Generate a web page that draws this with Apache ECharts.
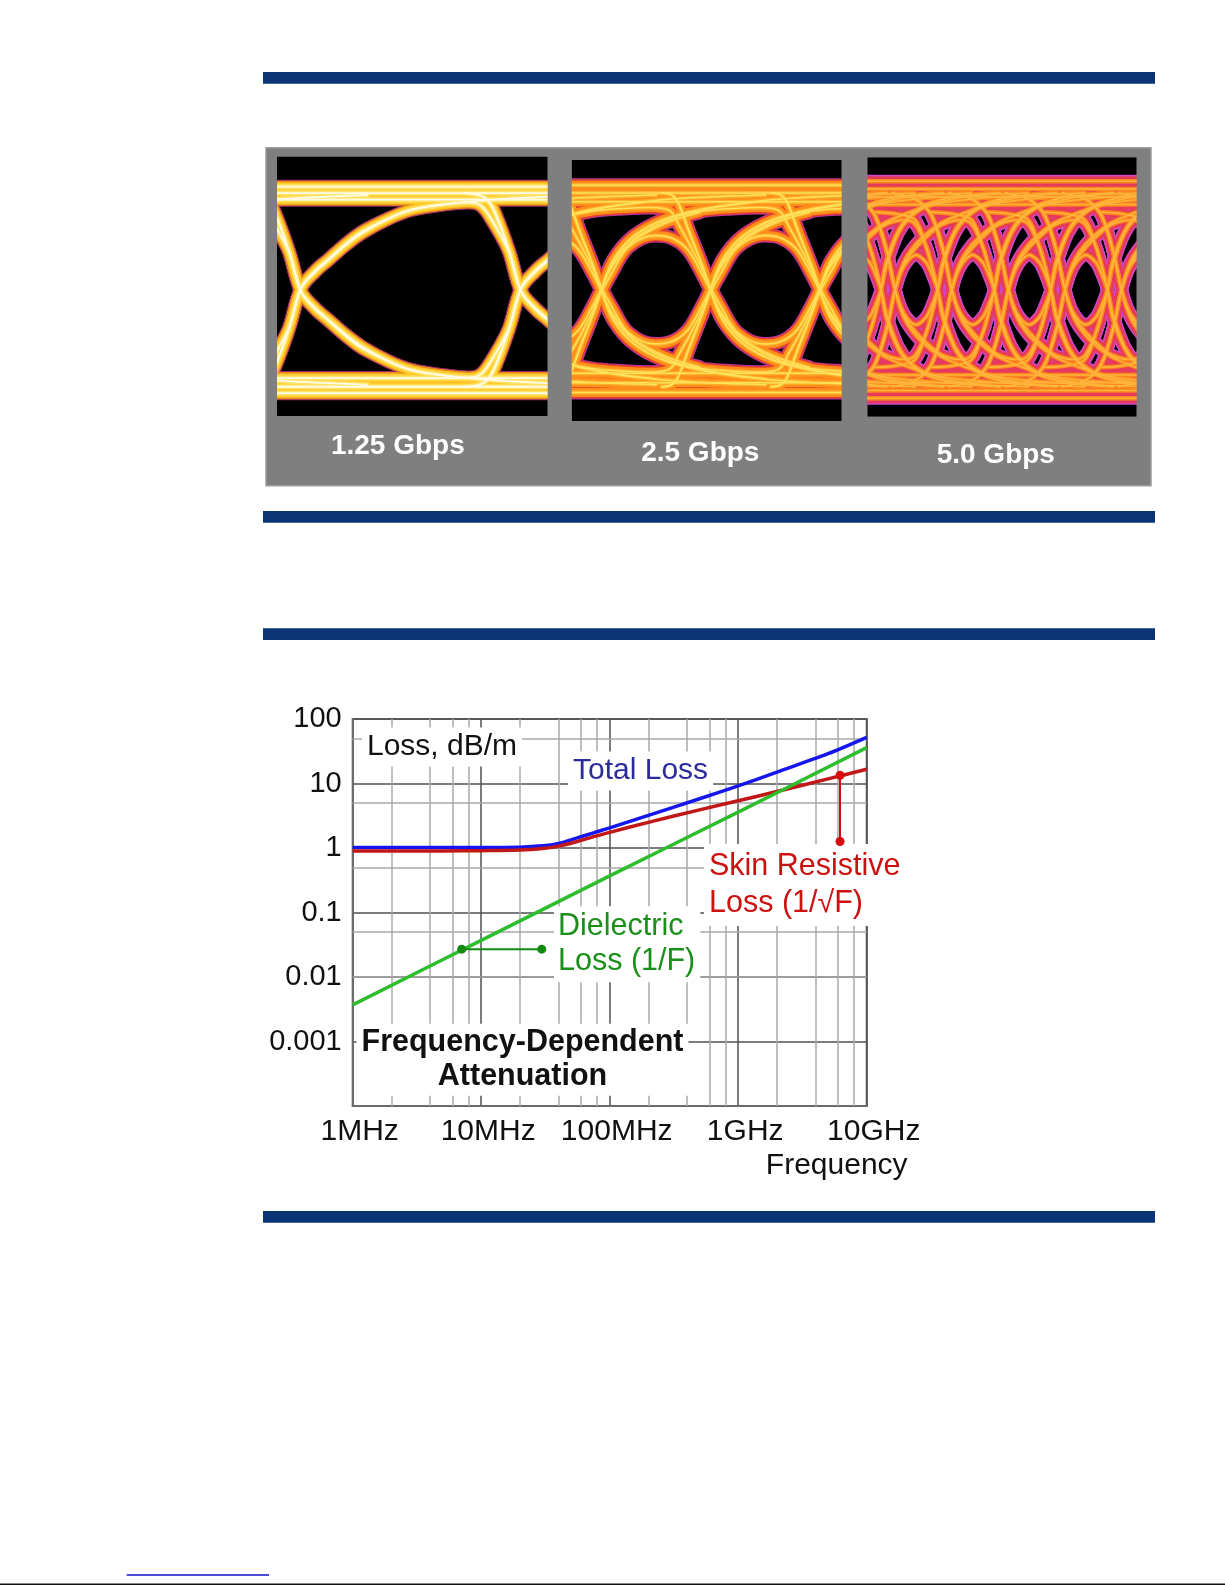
<!DOCTYPE html>
<html>
<head>
<meta charset="utf-8">
<script src="https://cdn.jsdelivr.net/npm/echarts@6/dist/echarts.min.js"></script>
<style>
html,body{margin:0;padding:0;background:#fff;}
#c{width:1225px;height:1585px;}
</style>
</head>
<body>
<div id="c"></div>
<script>
// ---------------- DATA: loss chart ----------------
const freqMHz     = [1, 2, 5, 10, 20, 30, 40, 55, 75, 100, 200, 500, 1000, 2000, 5000, 10000];
const totalLoss   = [1.02, 1.02, 1.02, 1.02, 1.03, 1.08, 1.18, 1.42, 1.72, 2.05, 3.2, 5.8, 9.2, 15, 29, 52];
const skinLoss    = [0.9, 0.9, 0.9, 0.91, 0.93, 0.98, 1.07, 1.25, 1.5, 1.75, 2.5, 3.9, 5.4, 7.5, 11.8, 16.6];
const dielFreqMHz = [1, 10, 100, 1000, 10000];
const dielLoss    = [0.0037, 0.037, 0.37, 3.6, 36];
const xTickLabels = ['1MHz', '10MHz', '100MHz', '1GHz', '10GHz'];          // exponents 0..4
const yTickLabels = ['', '0.001', '0.01', '0.1', '1', '10', '100'];         // exponents -4..2
const minorFreqs  = [2, 4, 6, 8, 20, 40, 60, 80, 200, 400, 600, 800, 2000, 4000, 6000, 8000];
const minorLosses = [0.0005, 0.005, 0.05, 0.5, 5, 50];
const skinMarker  = [[6200, 13.4], [6200, 1.26]];
const dielMarker  = [[7.05, 0.027], [29.6, 0.027]];

// ---------------- DATA: eye diagrams (time in UI, level 0..1) ----------------
const eyeLabels = ['1.25 Gbps', '2.5 Gbps', '5.0 Gbps'];
const eye1Edge  = [[-0.26,1.0],[-0.19,0.99],[-0.15,0.96],[-0.12,0.9],[-0.057,0.706],[0,0.49],[0.064,0.405],[0.125,0.344],[0.2,0.27],[0.276,0.206],[0.4,0.13],[0.503,0.086],[0.65,0.058],[0.806,0.04],[1.0,0.025],[1.3,0.01]];
const eye1Pulse = [[-0.26,0.0],[-0.19,0.01],[-0.15,0.04],[-0.12,0.1],[-0.057,0.294],[0,0.51],[0.064,0.595],[0.125,0.656],[0.2,0.73],[0.276,0.794],[0.4,0.87],[0.503,0.914],[0.65,0.942],[0.76,0.952],[0.81,0.94],[0.85,0.89],[0.943,0.7],[1.0,0.49],[1.064,0.4],[1.125,0.34],[1.2,0.265],[1.276,0.2],[1.4,0.13]];
const eye1Rails = [1.033, 1.0, 0.966, 0.045, 0.0, -0.033];

const eye2Edge   = [[-0.45,1.0],[-0.36,0.99],[-0.3,0.95],[-0.2,0.8],[-0.076,0.62],[0,0.49],[0.107,0.344],[0.29,0.224],[0.566,0.138],[0.9,0.086],[1.3,0.05],[1.8,0.025],[2.5,0.01]];
const eye2Pulse1 = [[-0.45,0.0],[-0.36,0.01],[-0.3,0.05],[-0.2,0.2],[-0.076,0.38],[0,0.49],[0.09,0.585],[0.244,0.72],[0.49,0.78],[0.65,0.765],[0.79,0.706],[0.916,0.585],[1.0,0.49],[1.107,0.36],[1.29,0.24],[1.566,0.15],[1.9,0.09],[2.5,0.04]];
const eye2Pulse2 = [[-0.45,0.0],[-0.36,0.01],[-0.3,0.05],[-0.2,0.2],[-0.076,0.38],[0,0.51],[0.107,0.656],[0.29,0.776],[0.566,0.862],[0.9,0.905],[1.2,0.92],[1.45,0.925],[1.62,0.91],[1.72,0.82],[1.8,0.74],[1.924,0.6],[2.0,0.49],[2.107,0.37],[2.29,0.25],[2.566,0.16],[2.9,0.1]];
const eye2Rails  = [1.04, 1.0, 0.955, 0.07, 0.02, -0.03];

const eye3LongEdge  = [[-0.9,1.0],[-0.6,0.98],[-0.4,0.95],[-0.2,0.88],[0,0.7],[0.15,0.5],[0.3,0.36],[0.5,0.27],[0.75,0.2],[1.0,0.15],[1.5,0.09],[2.0,0.05],[3.0,0.02],[4.5,0.0]];
const eye3EarlyEdge = [[-1.2,0.9],[-0.8,0.89],[-0.5,0.86],[-0.3,0.72],[-0.2,0.62],[-0.1,0.5],[0,0.35],[0.2,0.2],[0.4,0.12],[0.7,0.06],[1.2,0.02],[2.0,0.0]];
const eye3Pulse1    = [[-0.9,0.0],[-0.6,0.02],[-0.4,0.05],[-0.2,0.12],[0,0.3],[0.15,0.5],[0.3,0.62],[0.52,0.68],[0.7,0.64],[0.8,0.58],[0.9,0.5],[1.0,0.37],[1.2,0.21],[1.4,0.13],[1.7,0.07],[2.2,0.03],[3.0,0.0]];
const eye3Pulse2    = [[-0.9,0.0],[-0.6,0.02],[-0.4,0.05],[-0.2,0.12],[0,0.3],[0.15,0.5],[0.3,0.63],[0.52,0.72],[0.8,0.8],[1.0,0.84],[1.3,0.86],[1.5,0.84],[1.7,0.72],[1.8,0.62],[1.9,0.5],[2.0,0.35],[2.2,0.2],[2.4,0.12],[2.7,0.06],[3.2,0.02],[4.0,0.0]];
const eye3Rails     = [1.06, 1.02, 0.98, 0.94, 0.06, 0.02, -0.02, -0.06];

// ---------------- layout / style config ----------------
const eyes = [
  {left:277,   top:155.7, width:270.7, height:260.3, tmin:-0.11,  tmax:1.12,  vmin:-0.151, vmax:1.193,
   shifts:[-1,0,1], shapes:[eye1Edge, eye1Pulse], rails:eye1Rails,
   layers:[{w:14,c:'#9a2a6a'},{w:12,c:'#e88a1c'},{w:9,c:'#ffc928'},{w:5,c:'#ffe36a'},{w:1.8,c:'#fffbe6'}],
   label:{x:397.8, y:446}},
  {left:571.7, top:160,   width:270,   height:261,   tmin:-0.275, tmax:2.198, vmin:-0.177, vmax:1.170,
   shifts:[-2,-1,0,1,2], shapes:[eye2Edge, eye2Pulse1, eye2Pulse2], rails:eye2Rails,
   layers:[{w:14,c:'#b532a8'},{w:12,c:'#e4402a'},{w:9,c:'#ff8e1a'},{w:4,c:'#ffb02a'},{w:1.5,c:'#ffe15a'}],
   label:{x:700.3, y:453.3}},
  {left:867.3, top:157.3, width:269.4, height:259.4, tmin:-0.343, tmax:4.417, vmin:-0.155, vmax:1.184,
   shifts:[-4,-3,-2,-1,0,1,2,3,4,5], shapes:[eye3LongEdge, eye3EarlyEdge, eye3Pulse1, eye3Pulse2], rails:eye3Rails,
   layers:[{w:13,c:'#cf48c8'},{w:10,c:'#e63a5c'},{w:4.5,c:'#ff861e'},{w:1.6,c:'#ffb43a'}],
   label:{x:995.8, y:455}}
];
const panelRect = [266, 147.7, 885, 338];
const blueBars = [[263,72,892,11.7],[263,511,892,11.7],[263,628.3,892,11.7],[263,1211,892,11.7]];
const FONT = '"Liberation Sans", Arial, sans-serif';

const grids = [], xAxes = [], yAxes = [], series = [];

function eyeLine(xi, yi, data, L, li) {
  return {type:'line', xAxisIndex:xi, yAxisIndex:yi, data:data, smooth:0.35, showSymbol:false,
    silent:true, animation:false, z:1 + li, clip:true, emphasis:{disabled:true},
    lineStyle:{width:L.w, color:L.c, cap:'round', join:'round'}};
}

eyes.forEach((e, gi) => {
  grids.push({left:e.left, top:e.top, width:e.width, height:e.height, show:true,
    backgroundColor:'#000', borderWidth:0, outerBoundsMode:'none'});
  const xIdx = {};
  e.shifts.forEach(k => {
    xIdx[k] = xAxes.length;
    xAxes.push({type:'value', gridIndex:gi, min:e.tmin - k, max:e.tmax - k, show:false});
  });
  const yN = yAxes.length;
  yAxes.push({type:'value', gridIndex:gi, min:e.vmin, max:e.vmax, show:false});
  const yI = yAxes.length;
  yAxes.push({type:'value', gridIndex:gi, min:1 - e.vmax, max:1 - e.vmin, inverse:true, show:false});
  e.layers.forEach((L, li) => {
    e.rails.forEach(lv => series.push(eyeLine(xIdx[0], yN, [[e.tmin - 1, lv], [e.tmax + 1, lv]], L, li)));
    e.shapes.forEach(sh => e.shifts.forEach(k => [yN, yI].forEach(yy => series.push(eyeLine(xIdx[k], yy, sh, L, li)))));
  });
});

// ---------------- loss chart ----------------
const LG = grids.length;
grids.push({left:352.7, top:719, width:514, height:387, show:true, backgroundColor:'#fff',
  borderColor:'#6b6b6b', borderWidth:2, outerBoundsMode:'none'});
const LX = xAxes.length;
xAxes.push({type:'log', logBase:10, gridIndex:LG, min:1, max:10000, splitNumber:4, position:'bottom',
  axisLine:{show:true, onZero:false, lineStyle:{color:'#6b6b6b', width:2}},
  axisTick:{show:false},
  splitLine:{show:true, lineStyle:{color:'#505050', width:1.5}},
  axisLabel:{show:true, margin:11, color:'#111', fontSize:30, fontFamily:FONT, padding:[0,0,0,14],
    showMinLabel:true, showMaxLabel:true, hideOverlap:false,
    formatter: v => xTickLabels[Math.round(Math.log10(v))] || ''}});
const LY = yAxes.length;
yAxes.push({type:'log', logBase:10, gridIndex:LG, min:0.0001, max:100, splitNumber:6, position:'left',
  axisLine:{show:true, onZero:false, lineStyle:{color:'#6b6b6b', width:2}},
  axisTick:{show:false},
  splitLine:{show:true, lineStyle:{color:'#505050', width:1.5}},
  axisLabel:{show:true, margin:11, color:'#111', fontSize:29, fontFamily:FONT,
    showMinLabel:true, showMaxLabel:true, hideOverlap:false,
    formatter: v => yTickLabels[Math.round(Math.log10(v)) + 4] || ''}});

series.push({type:'line', xAxisIndex:LX, yAxisIndex:LY, data:[], silent:true, animation:false, z:5,
  markLine:{silent:true, animation:false, symbol:['none','none'], label:{show:false},
    lineStyle:{color:'#a8a8a8', width:1.5, type:'solid'}, emphasis:{disabled:true},
    data:[...minorFreqs.map(f => ({xAxis:f})), ...minorLosses.map(v => ({yAxis:v}))]}});

function lossLine(name, xs, ys, color) {
  return {type:'line', name:name, xAxisIndex:LX, yAxisIndex:LY, data:xs.map((f, i) => [f, ys[i]]),
    smooth:0.3, showSymbol:false, silent:true, animation:false, z:10, emphasis:{disabled:true},
    lineStyle:{width:3.5, color:color}};
}
series.push(lossLine('Total Loss', freqMHz, totalLoss, '#1515ef'));
series.push(lossLine('Skin Resistive Loss', freqMHz, skinLoss, '#c21717'));
series.push(lossLine('Dielectric Loss', dielFreqMHz, dielLoss, '#2dbd2d'));
function marker(data, color) {
  return {type:'line', xAxisIndex:LX, yAxisIndex:LY, data:data, showSymbol:true, symbol:'circle',
    symbolSize:9, silent:true, animation:false, z:11, emphasis:{disabled:true},
    itemStyle:{color:color}, lineStyle:{width:2, color:color}};
}
series.push(marker(skinMarker, '#d40b0b'));
series.push(marker(dielMarker, '#128a12'));

// ---------------- decorations and texts ----------------
const graphic = [];
const PANEL = '#7f7f7f';
graphic.push({type:'rect', z:-1, silent:true,
  shape:{x:panelRect[0], y:panelRect[1], width:panelRect[2], height:panelRect[3]}, style:{fill:PANEL}});
// gray mats around each eye picture (hide the glow that spills past the picture edge)
eyes.forEach(e => {
  const m = 9;
  [[e.left - m, e.top - m, m, e.height + 2 * m],
   [e.left + e.width, e.top - m, m, e.height + 2 * m],
   [e.left - m, e.top - m, e.width + 2 * m, m],
   [e.left - m, e.top + e.height, e.width + 2 * m, m]].forEach(r => graphic.push({type:'rect', z:7, silent:true,
     shape:{x:Math.max(r[0], panelRect[0]), y:Math.max(r[1], panelRect[1]), width:r[2], height:r[3]}, style:{fill:PANEL}}));
});
graphic.push({type:'rect', z:7.5, silent:true,
  shape:{x:panelRect[0], y:panelRect[1], width:panelRect[2], height:panelRect[3]},
  style:{fill:'none', stroke:'#9c9c9c', lineWidth:1.5}});
blueBars.forEach(b => graphic.push({type:'rect', z:0, silent:true,
  shape:{x:b[0], y:b[1], width:b[2], height:b[3]}, style:{fill:'#0b3474'}}));
graphic.push({type:'rect', z:0, silent:true, shape:{x:126.7, y:1574.3, width:142.3, height:1.5}, style:{fill:'#1010cc'}});
graphic.push({type:'rect', z:0, silent:true, shape:{x:0, y:1583.4, width:1225, height:1.6}, style:{fill:'#111'}});
eyes.forEach((e, i) => graphic.push({type:'text', z:8, silent:true,
  style:{text:eyeLabels[i], x:e.label.x, y:e.label.y, align:'center', verticalAlign:'middle',
    font:'bold 28px ' + FONT, fill:'#ffffff'}}));

function label(text, x, y, font, fill, align, lh, pad) {
  return {type:'text', z:8, silent:true, style:{text:text, x:x, y:y, align:align, verticalAlign:'middle',
    font:font, fill:fill, lineHeight:lh, backgroundColor:'#ffffff', padding:pad}};
}
graphic.push(label('Loss, dB/m', 362, 747, '30px ' + FONT, '#111', 'left', 31, [4,5,4,5]));
graphic.push(label('Total Loss', 568, 771, '30px ' + FONT, '#2b2b9b', 'left', 31, [4,5,4,5]));
graphic.push(label('Skin Resistive\nLoss (1/\u221AF)', 704, 885, '30.5px ' + FONT, '#cc1111', 'left', 37, [4,6,4,5]));
graphic.push(label('Dielectric\nLoss (1/F)', 554, 944.2, '30.5px ' + FONT, '#1a8f1a', 'left', 35, [3,5,3,4]));
graphic.push(label('Frequency-Dependent\nAttenuation', 522.5, 1059.7, 'bold 30.5px ' + FONT, '#111', 'center', 34, [2,5,2,5]));
graphic.push({type:'text', z:8, silent:true, style:{text:'Frequency', x:836.7, y:1166, align:'center',
  verticalAlign:'middle', font:'30px ' + FONT, fill:'#111'}});

const chart = echarts.init(document.getElementById('c'), null, {renderer:'canvas'});
chart.setOption({
  animation:false,
  backgroundColor:'#ffffff',
  textStyle:{fontFamily:FONT},
  tooltip:{show:false},
  grid:grids, xAxis:xAxes, yAxis:yAxes, series:series, graphic:graphic
});
</script>
</body>
</html>
